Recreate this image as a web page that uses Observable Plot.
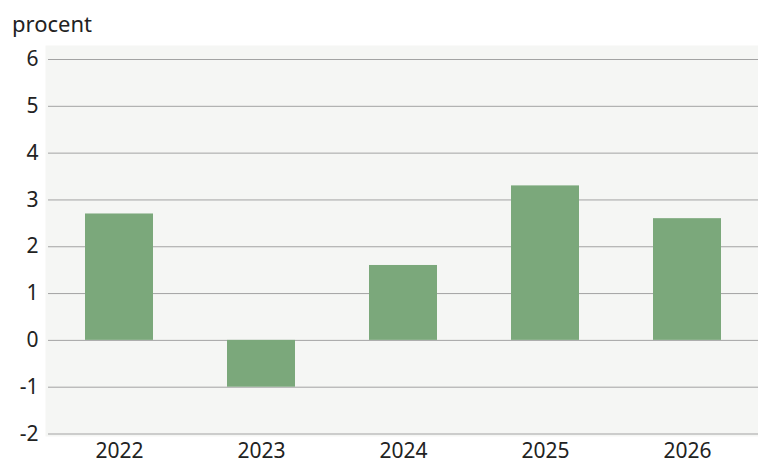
<!DOCTYPE html>
<html>
<head>
<meta charset="utf-8">
<script src="https://cdn.jsdelivr.net/npm/d3@7"></script>
<script src="https://cdn.jsdelivr.net/npm/@observablehq/plot@0.6"></script>
<style>
  html, body { margin: 0; padding: 0; background: #ffffff; }
  #wrap { position: relative; width: 758px; height: 464px; font-family: "Noto Sans", "Open Sans", sans-serif; }
  #unit { position: absolute; left: 12px; top: 9px; font-size: 22px; line-height: 28px; color: #222; }
</style>
</head>
<body>
<div id="wrap">
  <div id="unit">procent</div>
</div>
<script>
const years = ["2022", "2023", "2024", "2025", "2026"];
const values = [2.7, -1.0, 1.6, 3.3, 2.6];
const yTicks = [-2, -1, 0, 1, 2, 3, 4, 5, 6];

const data = years.map((year, i) => ({year, value: values[i]}));

const chart = Plot.plot({
  width: 758,
  height: 464,
  marginTop: 45,
  marginBottom: 28,
  marginLeft: 48,
  marginRight: 0,
  style: {fontFamily: '"Noto Sans", "Open Sans", sans-serif', fontSize: "21px", color: "#222", background: "transparent", overflow: "visible"},
  x: {domain: years, range: [48, 758], paddingInner: 0.52, paddingOuter: 0.26, label: null},
  y: {domain: [-2, 6], range: [433.5, 59], label: null},
  marks: [
    Plot.frame({fill: "#f5f6f4", stroke: "none", insetLeft: -3}),
    Plot.gridY(yTicks, {stroke: "#a3a3a3", strokeOpacity: 1, strokeWidth: 1}),
    Plot.barY(data, {x: "year", y: "value", fill: "#7ba87b"}),
    Plot.axisY(yTicks, {tickSize: 0, tickPadding: 10, tickFormat: d => String(d), fill: "#222", label: null}),
    Plot.axisX({tickSize: 0, tickPadding: 7, fill: "#222", label: null})
  ]
});
document.getElementById("wrap").appendChild(chart);
</script>
</body>
</html>
